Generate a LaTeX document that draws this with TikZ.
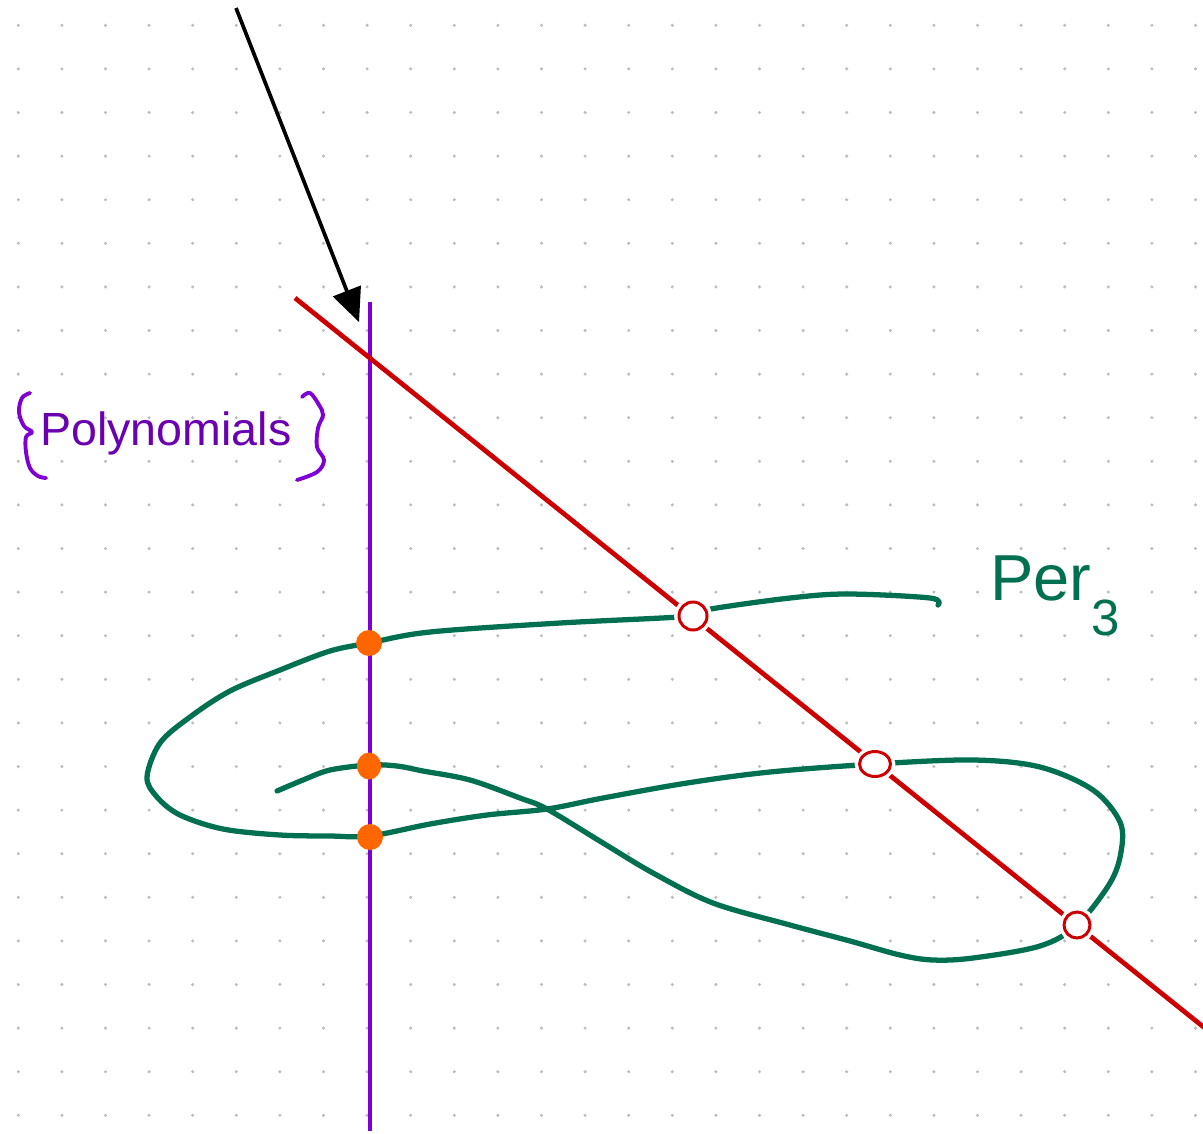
\documentclass[tikz,border=0pt]{standalone}
\usepackage{fontspec}
\setmainfont{Liberation Sans}
\usepackage{tikz}
\usetikzlibrary{arrows.meta,shapes.geometric}
\usepackage{xcolor}
\definecolor{SketchGreen}{HTML}{007050}
\definecolor{SketchRed}{HTML}{CC0000}
\definecolor{SketchPurple}{HTML}{7F00D4}
\definecolor{SketchPurpleText}{HTML}{6A00B0}
\definecolor{SketchOrange}{HTML}{FF6600}
\definecolor{SketchDot}{HTML}{BDBDBD}
\tikzset{
  griddot/.style={fill=SketchDot},
  perline/.style={draw=SketchRed,line width=2.7pt},
  polyline/.style={draw=SketchPurple,line width=2.7pt},
  percurve/.style={draw=SketchGreen,line width=3pt,line cap=round,line join=round},
  bracecurve/.style={draw=SketchPurple,line width=2.2pt,line cap=round,line join=round},
  pointer/.style={-{Triangle[length=19pt,width=17pt,line width=1pt]},line width=2.1pt,draw=black},
  hit/.style={circle,fill=SketchOrange,minimum size=0.52cm,inner sep=0pt},
  miss/.style={circle,draw=SketchRed,fill=white,line width=1.7pt,minimum size=0.56cm,inner sep=0pt,
    preaction={draw=white,line width=5.5pt}},
  label/.style={inner sep=0pt,anchor=base west}
}

\begin{document}
\begin{tikzpicture}[x=0.02cm,y=-0.02cm]
  \fill[white] (0,0) rectangle (1203,1133);
  \useasboundingbox (0,0) rectangle (1203,1133);
  \clip (0,0) rectangle (1203,1133);
  % dotted paper
  \foreach \i in {0,...,27}
    \foreach \j in {0,...,25}
      \fill[griddot] ({18.3+43.6*\i},{25.3+43.6*\j}) circle (1.7);

  \coordinate (polytop) at (370,302);
  \coordinate (polybot) at (370,1131);
  \coordinate (linetop) at (295,298);
  \coordinate (lineend) at (1206,1029);
  \coordinate (arrowtail) at (236,8);
  \coordinate (arrowtip) at (359,322);

  \draw[polyline] (polytop) -- (polybot);
  \draw[perline] (linetop) -- (lineend);

  % the curve Per_3
  \draw[percurve] plot[smooth,tension=0.55] coordinates {
    (938,605) (930,598) (847,594) (790,598) (711,609) (693,616) (560,623)
    (430,632) (369,643) (330,651) (280,670) (230,691) (190,717) (160,743)
    (147,777) (157,797) (180,815) (223,829) (280,835) (330,836) (370,836)
    (430,824) (487,815) (547,809) (603,798) (687,783) (770,772) (875,764)
    (973,760) (1040,767) (1093,790) (1120,822) (1121,852) (1110,883)
    (1077,925) (1040,946) (973,958) (933,960) (900,955) (850,941)
    (790,925) (713,903) (653,873) (603,843) (547,809) (520,798)
    (470,780) (423,771) (397,766) (369,765) (330,770) (303,780) (277,791)};

  \node[hit] (hittop) at (369,643) {};
  \node[hit,minimum width=0.48cm,minimum height=0.54cm,ellipse] (hitmid) at (369,766) {};
  \node[hit] (hitlow) at (370,837) {};
  \node[miss] (misstop) at (693,616) {};
  \node[miss,ellipse,minimum width=0.62cm,minimum height=0.5cm] (missmid) at (875,764) {};
  \node[miss,minimum size=0.52cm] (misslow) at (1077,925) {};

  \draw[pointer] (arrowtail) -- (arrowtip);

  \node[label,text=SketchPurpleText,font=\fontsize{26.5}{26.5}\selectfont] (polylabel) at (40,445) {Polynomials};
  \draw[bracecurve] plot[smooth,tension=0.6] coordinates {
    (30,393) (22,398) (19,412) (24,426) (32,432) (26,437) (26,452) (30,468) (38,476) (46,478)};
  \draw[bracecurve] plot[smooth,tension=0.6] coordinates {
    (302,397) (310,393) (319,405) (323,415) (318,428) (317,447) (324,460) (317,472) (297,480)};

  \node[label,text=SketchGreen,font=\fontsize{37}{37}\selectfont] (perlabel) at (990,600)
    {Per\raisebox{-20pt}{\fontsize{29}{29}\selectfont 3}};
\end{tikzpicture}
\end{document}
